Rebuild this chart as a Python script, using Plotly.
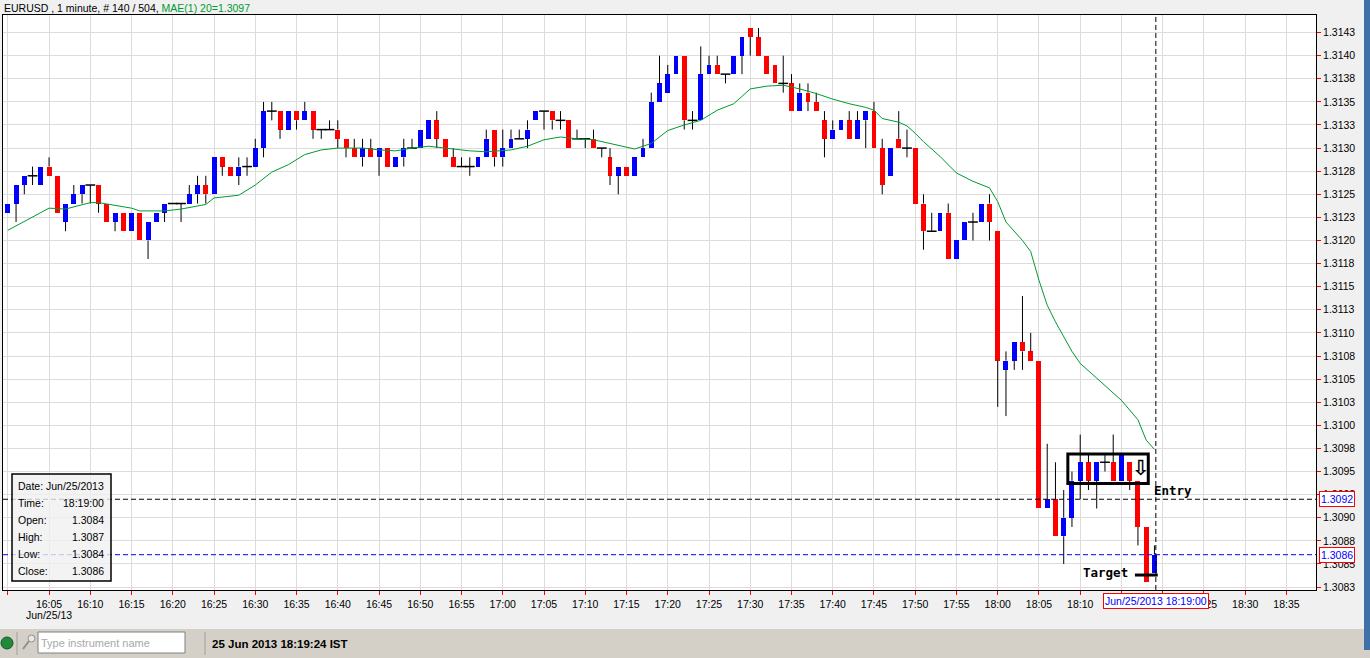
import pandas as pd
import plotly.graph_objects as go

# EURUSD 1 minute candles, 16:00 .. 18:19 (Jun 25 2013)
day = "2013-06-25"
start = "16:00"

opens = [1.3123, 1.3124, 1.3126, 1.3127, 1.3126, 1.3128, 1.3127, 1.3122, 1.3124, 1.3125,
         1.3126, 1.3126, 1.3124, 1.3122, 1.3123, 1.3121, 1.3123, 1.3120, 1.3122, 1.3123,
         1.3124, 1.3124, 1.3124, 1.3125, 1.3126, 1.3125, 1.3129, 1.3128, 1.3127, 1.3128,
         1.3128, 1.3130, 1.3134, 1.3134, 1.3132, 1.3134, 1.3133, 1.3134, 1.3132, 1.3132,
         1.3132, 1.3131, 1.3130, 1.3129, 1.3130, 1.3129, 1.3130, 1.3128, 1.3129, 1.3130,
         1.3130, 1.3131, 1.3133, 1.3131, 1.3129, 1.3128, 1.3128, 1.3128, 1.3129, 1.3132,
         1.3129, 1.3130, 1.3131, 1.3131, 1.3133, 1.3134, 1.3134, 1.3133, 1.3133, 1.3131,
         1.3131, 1.3131, 1.3130, 1.3129, 1.3127, 1.3128, 1.3127, 1.3129, 1.3130, 1.3135,
         1.3136, 1.3138, 1.3140, 1.3133, 1.3133, 1.3138, 1.3139, 1.3138, 1.3138, 1.3140,
         1.3143, 1.3142, 1.3140, 1.3139, 1.3137, 1.3137, 1.3134, 1.3136, 1.3135, 1.3133,
         1.3131, 1.3132, 1.3133, 1.3131, 1.3133, 1.3134, 1.3130, 1.3127, 1.3131, 1.3130,
         1.3130, 1.3124, 1.3121, 1.3121, 1.3123, 1.3118, 1.3120, 1.3122, 1.3122, 1.3124,
         1.3121, 1.3106, 1.3107, 1.3109, 1.3108, 1.3107, 1.3091, 1.3092, 1.3088, 1.3090,
         1.3094, 1.3096, 1.3094, 1.3096, 1.3096, 1.3094, 1.3096, 1.3094, 1.3089, 1.3084]

highs = [1.3124, 1.3126, 1.3127, 1.3128, 1.3128, 1.3129, 1.3127, 1.3124, 1.3126, 1.3126,
         1.3126, 1.3126, 1.3124, 1.3123, 1.3123, 1.3123, 1.3123, 1.3122, 1.3123, 1.3124,
         1.3124, 1.3124, 1.3126, 1.3127, 1.3127, 1.3129, 1.3129, 1.3128, 1.3129, 1.3129,
         1.3131, 1.3135, 1.3135, 1.3134, 1.3134, 1.3134, 1.3135, 1.3134, 1.3132, 1.3133,
         1.3133, 1.3131, 1.3131, 1.3131, 1.3131, 1.3130, 1.3130, 1.3129, 1.3131, 1.3131,
         1.3132, 1.3133, 1.3134, 1.3131, 1.3130, 1.3129, 1.3129, 1.3129, 1.3132, 1.3132,
         1.3132, 1.3132, 1.3132, 1.3133, 1.3134, 1.3134, 1.3134, 1.3134, 1.3133, 1.3132,
         1.3131, 1.3132, 1.3130, 1.3130, 1.3128, 1.3128, 1.3129, 1.3131, 1.3136, 1.3140,
         1.3139, 1.3140, 1.3140, 1.3134, 1.3141, 1.3140, 1.3140, 1.3138, 1.3140, 1.3142,
         1.3143, 1.3143, 1.3140, 1.3139, 1.3140, 1.3138, 1.3137, 1.3137, 1.3136, 1.3134,
         1.3133, 1.3133, 1.3134, 1.3134, 1.3134, 1.3135, 1.3131, 1.3130, 1.3134, 1.3132,
         1.3130, 1.3125, 1.3123, 1.3123, 1.3124, 1.3120, 1.3122, 1.3123, 1.3124, 1.3125,
         1.3121, 1.3108, 1.3109, 1.3114, 1.3110, 1.3107, 1.3098, 1.3096, 1.3093, 1.3095,
         1.3099, 1.3097, 1.3096, 1.3097, 1.3099, 1.3097, 1.3096, 1.3094, 1.3089, 1.3087]

lows = [1.3123, 1.3122, 1.3125, 1.3126, 1.3126, 1.3127, 1.3123, 1.3121, 1.3124, 1.3124,
        1.3124, 1.3123, 1.3122, 1.3121, 1.3121, 1.3121, 1.3120, 1.3118, 1.3122, 1.3122,
        1.3124, 1.3122, 1.3124, 1.3124, 1.3124, 1.3125, 1.3127, 1.3127, 1.3126, 1.3127,
        1.3128, 1.3129, 1.3133, 1.3131, 1.3132, 1.3132, 1.3133, 1.3131, 1.3131, 1.3132,
        1.3130, 1.3129, 1.3129, 1.3128, 1.3129, 1.3127, 1.3128, 1.3128, 1.3128, 1.3130,
        1.3130, 1.3131, 1.3130, 1.3129, 1.3128, 1.3128, 1.3127, 1.3128, 1.3129, 1.3128,
        1.3128, 1.3130, 1.3131, 1.3130, 1.3133, 1.3132, 1.3132, 1.3132, 1.3130, 1.3131,
        1.3130, 1.3130, 1.3129, 1.3126, 1.3125, 1.3127, 1.3127, 1.3129, 1.3130, 1.3135,
        1.3136, 1.3138, 1.3132, 1.3132, 1.3133, 1.3138, 1.3138, 1.3137, 1.3138, 1.3138,
        1.3140, 1.3140, 1.3138, 1.3137, 1.3136, 1.3134, 1.3134, 1.3134, 1.3134, 1.3129,
        1.3131, 1.3132, 1.3131, 1.3131, 1.3130, 1.3130, 1.3125, 1.3127, 1.3130, 1.3129,
        1.3124, 1.3119, 1.3121, 1.3121, 1.3118, 1.3118, 1.3120, 1.3120, 1.3122, 1.3120,
        1.3102, 1.3101, 1.3106, 1.3106, 1.3107, 1.3091, 1.3091, 1.3088, 1.3085, 1.3089,
        1.3092, 1.3093, 1.3091, 1.3095, 1.3094, 1.3094, 1.3093, 1.3087, 1.3083, 1.3084]

closes = [1.3124, 1.3126, 1.3127, 1.3127, 1.3128, 1.3127, 1.3123, 1.3124, 1.3125, 1.3126,
          1.3126, 1.3124, 1.3122, 1.3123, 1.3121, 1.3123, 1.3120, 1.3122, 1.3123, 1.3124,
          1.3124, 1.3124, 1.3125, 1.3126, 1.3125, 1.3129, 1.3128, 1.3127, 1.3128, 1.3128,
          1.3130, 1.3134, 1.3134, 1.3132, 1.3134, 1.3133, 1.3134, 1.3132, 1.3132, 1.3132,
          1.3131, 1.3130, 1.3129, 1.3130, 1.3129, 1.3130, 1.3128, 1.3129, 1.3130, 1.3130,
          1.3132, 1.3133, 1.3131, 1.3129, 1.3128, 1.3128, 1.3128, 1.3129, 1.3131, 1.3129,
          1.3130, 1.3131, 1.3131, 1.3132, 1.3134, 1.3134, 1.3133, 1.3133, 1.3130, 1.3131,
          1.3131, 1.3130, 1.3130, 1.3127, 1.3128, 1.3127, 1.3129, 1.3130, 1.3135, 1.3137,
          1.3138, 1.3140, 1.3133, 1.3133, 1.3138, 1.3139, 1.3138, 1.3138, 1.3140, 1.3142,
          1.3142, 1.3140, 1.3138, 1.3137, 1.3137, 1.3134, 1.3136, 1.3135, 1.3134, 1.3131,
          1.3132, 1.3133, 1.3131, 1.3133, 1.3134, 1.3130, 1.3126, 1.3130, 1.3130, 1.3130,
          1.3124, 1.3121, 1.3121, 1.3123, 1.3118, 1.3120, 1.3122, 1.3122, 1.3124, 1.3122,
          1.3107, 1.3107, 1.3109, 1.3108, 1.3107, 1.3091, 1.3092, 1.3088, 1.3090, 1.3094,
          1.3096, 1.3094, 1.3096, 1.3096, 1.3094, 1.3097, 1.3094, 1.3089, 1.3083, 1.3086]

# MAE(1) 20 line
ma_times = ["16:00", "16:05", "16:07", "16:10", "16:11", "16:13", "16:15", "16:16", "16:19", "16:21",
            "16:23", "16:24", "16:25", "16:28", "16:30", "16:32", "16:34", "16:36", "16:38", "16:40",
            "16:43", "16:45", "16:47", "16:49", "16:51", "16:54", "16:56", "16:58", "17:01", "17:03",
            "17:05", "17:07", "17:09", "17:11", "17:13", "17:15", "17:16", "17:18", "17:20", "17:22",
            "17:24", "17:26", "17:28", "17:30", "17:32", "17:34", "17:36", "17:38", "17:40", "17:42",
            "17:44", "17:45", "17:46", "17:48", "17:49", "17:50", "17:51", "17:53", "17:55", "17:57",
            "17:59", "18:00", "18:01", "18:03", "18:04", "18:05", "18:06", "18:07", "18:08", "18:09",
            "18:10", "18:13", "18:15", "18:17", "18:18", "18:19"]
ma_vals = [1.31211, 1.31235, 1.31234, 1.31241, 1.31241, 1.31238, 1.31235, 1.31232, 1.31232, 1.31234,
           1.31237, 1.31239, 1.31246, 1.31249, 1.31260, 1.31274, 1.31282, 1.31293, 1.31298, 1.31300,
           1.31300, 1.31298, 1.31297, 1.31300, 1.31302, 1.31299, 1.31297, 1.31296, 1.31298, 1.31302,
           1.31309, 1.31312, 1.31310, 1.31309, 1.31305, 1.31301, 1.31299, 1.31305, 1.31319, 1.31325,
           1.31330, 1.31341, 1.31348, 1.31364, 1.31367, 1.31368, 1.31364, 1.31359, 1.31353, 1.31348,
           1.31344, 1.31341, 1.31332, 1.31328, 1.31324, 1.31316, 1.31307, 1.31291, 1.31273, 1.31264,
           1.31257, 1.31242, 1.31220, 1.31200, 1.31188, 1.31157, 1.31130, 1.31112, 1.31096, 1.31080,
           1.31067, 1.31043, 1.31027, 1.31006, 1.30984, 1.30974]

# right axis ticks (every 0.00025, labels as the platform shows them)
y_tickvals = [1.30825, 1.3085, 1.30875, 1.309, 1.30925, 1.3095, 1.30975, 1.31, 1.31025,
              1.3105, 1.31075, 1.311, 1.31125, 1.3115, 1.31175, 1.312, 1.31225, 1.3125,
              1.31275, 1.313, 1.31325, 1.3135, 1.31375, 1.314, 1.31425]
y_ticktext = ["1.3083", "1.3085", "1.3088", "1.3090", "1.3093", "1.3095", "1.3098", "1.3100",
              "1.3103", "1.3105", "1.3108", "1.3110", "1.3113", "1.3115", "1.3118", "1.3120",
              "1.3123", "1.3125", "1.3128", "1.3130", "1.3133", "1.3135", "1.3138", "1.3140",
              "1.3143"]

cursor_time = day + " 18:19:10"
cursor_label = "Jun/25/2013 18:19:00"
cursor_price = 1.3092

times = pd.date_range(f"{day} {start}", periods=len(opens), freq="min")
ma_x = pd.to_datetime([f"{day} {t}" for t in ma_times])

FONT = "Liberation Sans"
BLUE = "#0000FF"
RED = "#FF0000"
GREEN = "#009933"


# pixel -> paper helpers (plot area is 3..1316 x 15..590)
def px(X):
    return (X - 3) / 1313


def py(Y):
    return (590 - Y) / 575


# wicks, only outside the body (scatter sits above bars in plotly)
wick_x, wick_y = [], []
for t, o, h, l, c in zip(times, opens, highs, lows, closes):
    lo, hi = min(o, c), max(o, c)
    if l < lo:
        wick_x += [t, t, None]
        wick_y += [l, lo, None]
    if h > hi:
        wick_x += [t, t, None]
        wick_y += [hi, h, None]

body_col = [BLUE if c > o else RED for o, c in zip(opens, closes)]
doji_x = [t for t, o, c in zip(times, opens, closes) if o == c]
doji_y = [o for o, c in zip(opens, closes) if o == c]

fig = go.Figure()
fig.add_trace(go.Bar(x=times, y=[c - o for o, c in zip(opens, closes)], base=opens,
                     width=36000, marker=dict(color=body_col, line=dict(width=0))))
fig.add_trace(go.Scatter(x=wick_x, y=wick_y, mode="lines",
                         line=dict(color="black", width=1), hoverinfo="skip"))
fig.add_trace(go.Scatter(x=doji_x, y=doji_y, mode="markers",
                         marker=dict(symbol="line-ew", size=7,
                                     line=dict(color="black", width=1.5))))
fig.add_trace(go.Scatter(x=ma_x, y=ma_vals, mode="lines",
                         line=dict(color=GREEN, width=1)))

dash = "5px,3px"
shapes = [
    # cursor cross + last price
    dict(type="line", xref="x", yref="paper", x0=cursor_time, x1=cursor_time, y0=0, y1=1,
         line=dict(color="black", width=1, dash=dash)),
    dict(type="line", xref="paper", yref="y", x0=0, x1=1, y0=cursor_price, y1=cursor_price,
         line=dict(color="black", width=1, dash=dash)),
    dict(type="line", xref="paper", yref="y", x0=0, x1=1, y0=closes[-1], y1=closes[-1],
         line=dict(color=BLUE, width=1, dash=dash)),
    # consolidation box + target line
    dict(type="rect", xref="x", yref="y", x0=day + " 18:08:30", x1=day + " 18:18:15",
         y0=1.30937, y1=1.30969, line=dict(color="black", width=3)),
    dict(type="line", xref="x", yref="y", x0=day + " 18:16:38", x1=day + " 18:19:24",
         y0=1.30838, y1=1.30838, line=dict(color="black", width=3)),
    # data window
    dict(type="rect", xref="paper", yref="paper", x0=px(12), x1=px(111), y0=py(581), y1=py(474),
         fillcolor="rgba(240,240,240,0.8)", line=dict(color="black", width=1.5)),
    # window chrome
    dict(type="rect", xref="paper", yref="paper", x0=px(0), x1=px(1370), y0=py(658), y1=py(629),
         fillcolor="#D4D0C8", line=dict(width=0)),
    dict(type="rect", xref="paper", yref="paper", x0=px(1364), x1=px(1371), y0=py(650), y1=py(0),
         fillcolor="#4070A8", line=dict(width=0)),
    dict(type="circle", xref="paper", yref="paper", x0=px(1), x1=px(13), y0=py(649), y1=py(637),
         fillcolor="#1F8A3A", line=dict(color="#0E5A22", width=1)),
    dict(type="line", xref="paper", yref="paper", x0=px(17), x1=px(17), y0=py(655), y1=py(632),
         line=dict(color="#A0A0A0", width=1)),
    dict(type="line", xref="paper", yref="paper", x0=px(205), x1=px(205), y0=py(655), y1=py(632),
         line=dict(color="#A0A0A0", width=1)),
    dict(type="circle", xref="paper", yref="paper", x0=px(28), x1=px(35), y0=py(642), y1=py(635),
         fillcolor="#E8E8E8", line=dict(color="#909090", width=1)),
    dict(type="line", xref="paper", yref="paper", x0=px(23), x1=px(29), y0=py(649), y1=py(641),
         line=dict(color="#909090", width=2)),
    dict(type="rect", xref="paper", yref="paper", x0=px(38), x1=px(185), y0=py(653), y1=py(632),
         fillcolor="white", line=dict(color="#808080", width=1)),
]


def note(text, X, Y, anchor="left", size=10.5, color="black", **kw):
    return dict(text=text, xref="paper", yref="paper", x=px(X), y=py(Y), xanchor=anchor,
                yanchor="middle", showarrow=False,
                font=dict(family=kw.pop("family", FONT), size=size, color=color), **kw)


annotations = [
    note(f"EURUSD , 1 minute, # {len(opens)} / 504, "
         f"<span style='color:{GREEN}'>MAE(1) 20={ma_vals[-1]:.4f}</span>", 2, 8),
    note("Jun/25/13", 49, 615, anchor="center"),
    dict(text=cursor_label, xref="x", yref="paper", x=cursor_time, y=py(600.5),
         xanchor="center", yanchor="middle", showarrow=False, bgcolor="white",
         bordercolor=RED, borderwidth=1, borderpad=1, font=dict(family=FONT, size=10.5, color=BLUE)),
    dict(text=f"{cursor_price:.4f}", xref="paper", yref="y", x=px(1319), y=cursor_price,
         xanchor="left", yanchor="middle", showarrow=False, bgcolor="white",
         bordercolor=RED, borderwidth=1, borderpad=1, font=dict(family=FONT, size=10.5, color=BLUE)),
    dict(text=f"{closes[-1]:.4f}", xref="paper", yref="y", x=px(1319), y=closes[-1],
         xanchor="left", yanchor="middle", showarrow=False, bgcolor="white",
         bordercolor=RED, borderwidth=1, borderpad=1, font=dict(family=FONT, size=10.5, color=BLUE)),
    note("<b>Entry</b>", 1152, 490, size=12.5, family="DejaVu Sans Mono"),
    note("<b>Target</b>", 1081, 572, size=12.5, family="DejaVu Sans Mono"),
    note("<b>⇩</b>", 1141, 468, anchor="center", size=21, family="DejaVu Sans"),
    note("Type instrument name", 39, 643, size=11, color="#A8A8A8"),
    note("<b>25 Jun 2013 18:19:24 IST</b>", 210, 644, size=11.5),
]

# data window rows
rows = [("Date:", "Jun/25/2013"), ("Time:", "18:19:00"), ("Open:", f"{opens[-1]:.4f}"),
        ("High:", f"{highs[-1]:.4f}"), ("Low:", f"{lows[-1]:.4f}"), ("Close:", f"{closes[-1]:.4f}")]
for k, (lab, val) in enumerate(rows):
    Y = 486 + k * 17
    annotations.append(note(lab, 16, Y))
    annotations.append(note(val, 106, Y, anchor="right"))

fig.update_layout(
    width=1370, height=658,
    margin=dict(l=3, r=54, t=15, b=68),
    paper_bgcolor="#F0F0F0", plot_bgcolor="white",
    showlegend=False, bargap=0, hovermode=False,
    shapes=shapes, annotations=annotations,
    xaxis=dict(type="date", range=[f"{day} 15:59:25", f"{day} 18:38:35"],
               tickformat="%H:%M", tick0=f"{day} 16:05", dtick=300000,
               ticks="outside", ticklen=4, tickcolor=RED, tickwidth=1,
               showgrid=True, gridcolor="#DCDCDC", gridwidth=1, zeroline=False,
               showline=True, linecolor="black", linewidth=1, mirror=True,
               tickfont=dict(family=FONT, size=10.5, color="black")),
    yaxis=dict(side="right", range=[1.308218, 1.31444],
               tickvals=y_tickvals, ticktext=y_ticktext,
               ticks="outside", ticklen=4, tickcolor=RED, tickwidth=1,
               showgrid=True, gridcolor="#DCDCDC", gridwidth=1, zeroline=False,
               showline=True, linecolor="black", linewidth=1, mirror=True,
               tickfont=dict(family=FONT, size=10.5, color="black")),
)

fig.write_html("out.html", config={"displayModeBar": False},
               post_script="document.body.style.margin='0';")
